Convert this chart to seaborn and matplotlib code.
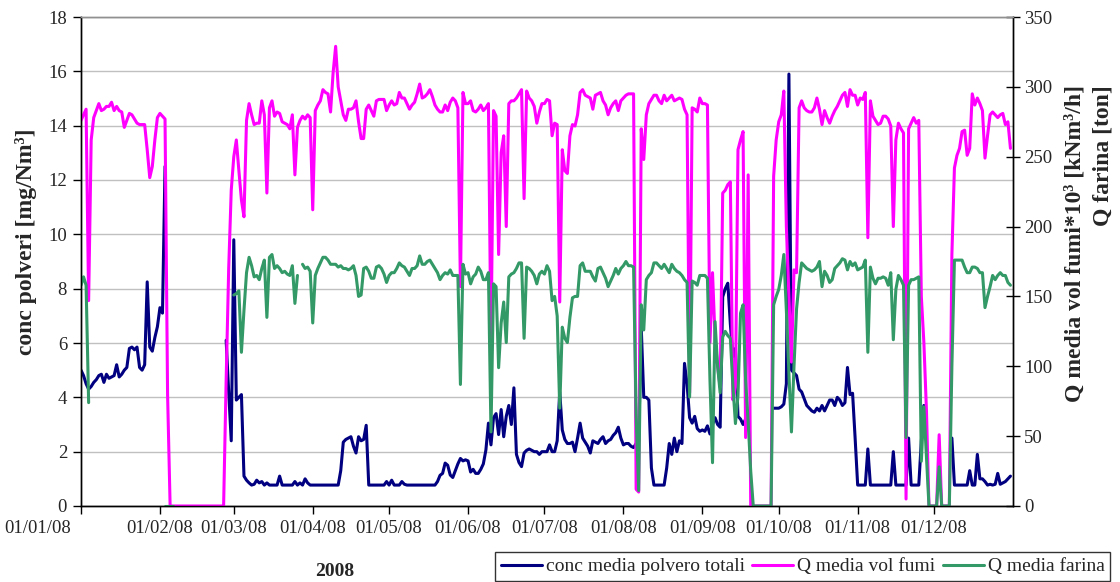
import numpy as np
import pandas as pd
import matplotlib
matplotlib.use("Agg")
import matplotlib.pyplot as plt
import matplotlib.dates as mdates
import matplotlib.transforms as mtransforms
from matplotlib.lines import Line2D
import seaborn as sns

N = np.nan

# ---- daily data, year 2008 (one list per month) ----
conc_polveri = [
    # Jan
    [5.0, 4.8, 4.5, 4.3, 4.4, 4.55, 4.65, 4.8, 4.85, 4.55, 4.85, 4.7, 4.75, 4.8, 5.2, 4.75,
     4.85, 5.0, 5.1, 5.8, 5.85, 5.75, 5.85, 5.1, 5.0, 5.2, 8.25, 5.85, 5.7, 6.2, 6.6],
    # Feb
    [7.3, 7.1, 12.5] + [N] * 23 + [6.1, 4.2, 2.4],
    # Mar
    [9.8, 3.9, 4.0, 4.1, 1.1, 0.95, 0.85, 0.77, 0.8, 0.95, 0.85, 0.9, 0.77, 0.85, 0.77, 0.77,
     0.77, 0.77, 1.1, 0.77, 0.77, 0.77, 0.77, 0.77, 0.9, 0.77, 0.85, 0.77, 1.0, 0.85, 0.77],
    # Apr
    [0.77] * 11 + [1.3, 2.35, 2.45, 2.5, 2.55, 2.2, 1.95, 2.55, 2.4, 2.45, 2.97] + [0.77] * 7 + [0.9],
    # May
    [0.77, 0.95, 0.77, 0.77, 0.77, 0.9, 0.8] + [0.77] * 12 +
    [0.9, 1.13, 1.2, 1.58, 1.5, 1.14, 1.05, 1.3, 1.55, 1.75, 1.66, 1.7],
    # Jun
    [1.66, 1.25, 1.35, 1.2, 1.2, 1.35, 1.55, 2.06, 3.05, 2.25, 3.25, 3.4, 2.63, 3.55, 2.55,
     3.3, 3.7, 3.0, 4.35, 1.9, 1.6, 1.45, 1.95, 2.05, 2.1, 2.05, 2.0, 2.0, 1.9, 2.0],
    # Jul
    [2.0, 2.0, 2.25, 2.0, 2.0, 2.4, 4.2, 2.8, 2.45, 2.3, 2.3, 2.35, 2.0, 2.5, 3.05, 2.5,
     2.35, 2.2, 1.95, 2.4, 2.35, 2.3, 2.45, 2.55, 2.3, 2.4, 2.45, 2.6, 2.7, 2.9, 2.5],
    # Aug
    [2.25, 2.3, 2.3, 2.2, 2.15, 2.3, 2.4, 6.6, 4.0, 4.0, 3.9, 1.4, 0.77, 0.77, 0.77, 0.77,
     0.77, 1.4, 2.3, 1.9, 2.5, 2.0, 2.4, 2.3, 5.25, 4.5, 3.25, 3.05, 3.3, 2.85, 2.75],
    # Sep
    [2.8, 2.75, 2.95, 2.65, 3.0, 3.25, 3.0, 2.9, 7.7, 8.0, 8.2, 6.7, 5.5, 5.8, 3.3, 3.2,
     3.0, 3.2, 3.0] + [N] * 9 + [3.6, 3.6],
    # Oct
    [3.6, 3.65, 3.75, 4.5, 15.9, 5.0, 4.9, 4.8, 4.3, 4.2, 3.95, 3.7, 3.6, 3.5, 3.45, 3.6,
     3.5, 3.7, 3.5, 3.7, 3.9, 3.9, 3.7, 4.0, 3.9, 3.7, 3.8, 5.1, 4.1, 4.15, 2.5],
    # Nov
    [0.77] * 4 + [2.1] + [0.77] * 9 + [2.0] + [0.77] * 5 + [2.5] + [0.77] * 4 + [2.4, 3.7] + [N] * 3,
    # Dec
    [N] * 7 + [2.5, 0.77, 0.77, 0.77, 0.77, 0.77, 0.77, 1.3, 0.77, 0.77, 1.9, 1.0, 1.0, 0.9,
               0.77, 0.8, 0.77, 0.8, 1.2, 0.8, 0.85, 0.9, 1.0, 1.1],
]

q_fumi = [
    [276, 280, 284, 147, 262, 278, 283, 288, 283, 284, 286, 286, 289, 283, 286, 283,
     282, 271, 276, 281, 280, 277, 274, 273, 273, 273, 255, 235, 243, 262, 278],
    [281, 279, 277, 80] + [0] * 22 + [90, 170, 226],
    [250, 262, 240, 219, 207, 276, 288, 280, 273, 274, 274, 290, 280, 224, 285, 290,
     279, 282, 281, 275, 274, 273, 270, 280, 237, 271, 276, 279, 277, 280, 278],
    [212, 283, 287, 290, 298, 296, 295, 282, 310, 329, 300, 290, 280, 276, 284, 284,
     285, 290, 275, 263, 263, 284, 287, 283, 279, 290, 291, 291, 291, 283],
    [287, 290, 287, 288, 296, 292, 292, 288, 284, 287, 289, 295, 302, 292, 293, 295,
     298, 293, 287, 284, 282, 282, 287, 283, 289, 292, 290, 285, 157, 296, 288],
    [288, 290, 283, 282, 284, 287, 283, 285, 288, 114, 283, 279, 180, 253, 265, 200,
     288, 290, 290, 292, 295, 298, 220, 297, 292, 290, 286, 274, 282, 288],
    [288, 291, 290, 265, 274, 273, 146, 255, 240, 238, 265, 273, 272, 280, 296, 298,
     294, 293, 292, 284, 294, 295, 296, 290, 287, 280, 285, 288, 290, 283, 290],
    [292, 294, 295, 295, 295, 12, 10, 270, 248, 280, 288, 291, 294, 294, 290, 288,
     294, 290, 292, 294, 290, 291, 292, 291, 284, 280, 81, 285, 284, 282, 292],
    [288, 288, 287, 117, 167, 120, 100, 85, 224, 226, 230, 232, 76, 85, 255, 262,
     268, 49, 237] + [0] * 9 + [236, 262],
    [275, 280, 297, 200, 150, 103, 169, 167, 285, 290, 285, 283, 282, 282, 285, 292,
     284, 273, 283, 278, 274, 279, 283, 286, 290, 294, 296, 286, 298, 294, 294],
    [287, 292, 291, 296, 192, 290, 279, 276, 273, 274, 279, 279, 277, 272, 200, 262,
     274, 270, 267, 5, 270, 274, 278, 274, 276, 150, 117, 69, 0, 0],
    [0, 0, 51, 0, 0, 0, 0, 180, 242, 251, 256, 268, 269, 251, 256, 295, 287, 292, 288,
     283, 249, 265, 280, 282, 280, 278, 280, 281, 273, 275, 256],
]

q_farina = [
    [158, 164, 158, 74] + [N] * 27,
    [N, N, 0, 0, 0, 0] + [N] * 23,
    [151, 152, 154, 110, 140, 167, 178, 172, 164, 165, 162, 170, 176, 135, 178, 180,
     170, 172, 170, 167, 168, 166, 165, 172, 145, 165, N, 173, 170, 171, 168],
    [131, 165, 170, 174, 178, 178, 176, 173, 173, 173, 171, 172, 170, 170, 169, 170,
     172, 165, 150, 151, 170, 171, 168, 163, 163, 171, 172, 170, 166, 160],
    [165, 167, 167, 170, 174, 172, 171, 168, 165, 170, 170, 172, 179, 173, 173, 175,
     176, 173, 170, 167, 162, 165, 167, 166, 169, 165, 165, 165, 87, 173, 166],
    [167, 159, 164, 166, 171, 168, 162, 162, 167, 53, 159, 157, 99, 131, 146, 117,
     164, 166, 167, 170, 174, 174, 120, 171, 170, 168, 165, 159, 166, 168],
    [166, 172, 168, 147, 150, 136, 70, 128, 120, 117, 135, 149, 150, 150, 172, 174,
     168, 168, 168, 164, 161, 170, 171, 167, 163, 157, 161, 165, 170, 166, 170],
    [172, 175, 172, 172, 171, 65, 11, 144, 126, 162, 165, 167, 174, 174, 172, 170,
     173, 170, 167, 173, 170, 168, 167, 165, 162, 160, 78, 161, 160, 158, 165],
    [165, 165, 163, 90, 31, 132, 100, 81, 121, 125, 122, 120, 86, 59, 79, 138,
     144, 90, 60, 25] + [0] * 8 + [144, 150],
    [155, 165, 180, 140, 95, 53, 100, 141, 160, 174, 172, 170, 169, 168, 169, 171,
     175, 157, 168, 165, 160, 162, 170, 172, 174, 177, 176, 169, 175, 172, 174],
    [169, 170, 171, 176, 110, 171, 163, 159, 163, 163, 164, 163, 158, 167, 119, 155,
     165, 162, 158, 49, 158, 162, 162, 163, 164, 32, 71, 36, 0, 0],
    [0, 0, 28, 0, 0, 0, 0, 100, 176, 176, 176, 176, 171, 167, 167, 171, 171, 170, 167,
     167, 142, 150, 157, 165, 162, 165, 167, 165, 165, 160, 158],
]

series_names = ["conc media polvero totali", "Q media vol fumi", "Q media farina"]
series_colors = ["#000080", "#FF00FF", "#339966"]

dates = pd.date_range("2008-01-01", "2008-12-31", freq="D")
month_ticks = pd.date_range("2008-01-01", "2008-12-01", freq="MS")


def to_frame(months):
    values = np.array([v for m in months for v in m], dtype=float)
    assert len(values) == len(dates)
    # every missing day starts a new segment, so gaps stay open
    seg = np.cumsum(np.isnan(values))
    df = pd.DataFrame({"date": dates, "value": values, "seg": seg})
    return df.dropna()


sns.set_theme(style="white")
plt.rcParams["font.family"] = ["Liberation Serif", "DejaVu Serif"]
plt.rcParams["font.size"] = 13.5

fig = plt.figure(figsize=(11.2, 5.82), dpi=100)
ax = fig.add_axes([81 / 1120, 1 - 506 / 582, (1013 - 81) / 1120, (506 - 17) / 582])
ax2 = ax.twinx()

lw = 2.2
sns.lineplot(data=to_frame(conc_polveri), x="date", y="value", units="seg", estimator=None,
             color=series_colors[0], lw=lw, ax=ax, legend=False)
sns.lineplot(data=to_frame(q_fumi), x="date", y="value", units="seg", estimator=None,
             color=series_colors[1], lw=lw, ax=ax2, legend=False)
sns.lineplot(data=to_frame(q_farina), x="date", y="value", units="seg", estimator=None,
             color=series_colors[2], lw=lw, ax=ax2, legend=False)

# left axis
ax.set_ylim(0, 18)
ax.set_yticks(np.arange(0, 19, 2))
ax.yaxis.grid(True, color="#c0c0c0", lw=1.0)
ax.set_axisbelow(True)
ax.set_ylabel("")
ax.set_xlabel("")

# right axis
ax2.set_ylim(0, 350)
ax2.set_yticks(np.arange(0, 351, 50))
ax2.set_ylabel("")
ax2.grid(False)

# date axis: one tick per month start
ax.set_xlim(pd.Timestamp("2008-01-01"), pd.Timestamp("2009-01-01"))
ax.set_xticks(month_ticks)
ax.xaxis.set_major_formatter(mdates.DateFormatter("%d/%m/%y"))

for a in (ax, ax2):
    for s in a.spines.values():
        s.set_color("black")
        s.set_linewidth(1.0)
    a.spines["top"].set_color("#909090")

ax.tick_params(axis="y", direction="out", length=6, width=1, color="black",
               labelsize=13.5, pad=4, left=True)
ax.tick_params(axis="x", direction="out", length=6, width=1, color="black",
               labelsize=13.5, pad=4, bottom=True)
ax2.tick_params(axis="y", direction="inout", length=10, width=1, color="black",
                labelsize=13.5, pad=3, right=True)

# the first date label sits left of the axis corner
first_label = ax.xaxis.get_major_ticks()[0].label1
first_label.set_transform(first_label.get_transform() +
                          mtransforms.ScaledTranslation(-0.43, 0, fig.dpi_scale_trans))

# axis titles
fig.text(26 / 1120, 1 - 242 / 582, "conc polveri [mg/Nm³]", rotation=90,
         ha="center", va="center", fontsize=17, fontweight="bold")
fig.text(1075 / 1120, 1 - 85 / 582, "Q media vol fumi*10³ [kNm³/h]", rotation=90,
         ha="center", va="top", fontsize=17, fontweight="bold")
fig.text(1103 / 1120, 1 - 85 / 582, "Q farina [ton]", rotation=90,
         ha="center", va="top", fontsize=17, fontweight="bold")
fig.text(335 / 1120, 1 - 572 / 582, "2008", ha="center", va="center",
         fontsize=14, fontweight="bold")

handles = [Line2D([], [], color=c, lw=lw) for c in series_colors]
leg = fig.legend(handles, series_names, loc="upper left",
                 bbox_to_anchor=(495 / 1120, 1 - 552 / 582), ncol=3, frameon=True,
                 fancybox=False, edgecolor="black", fontsize=14, handlelength=2.1,
                 handletextpad=0.2, columnspacing=0.4, borderpad=0.3, borderaxespad=0)
leg.get_frame().set_linewidth(1.0)

fig.savefig("out.png", dpi=100)
